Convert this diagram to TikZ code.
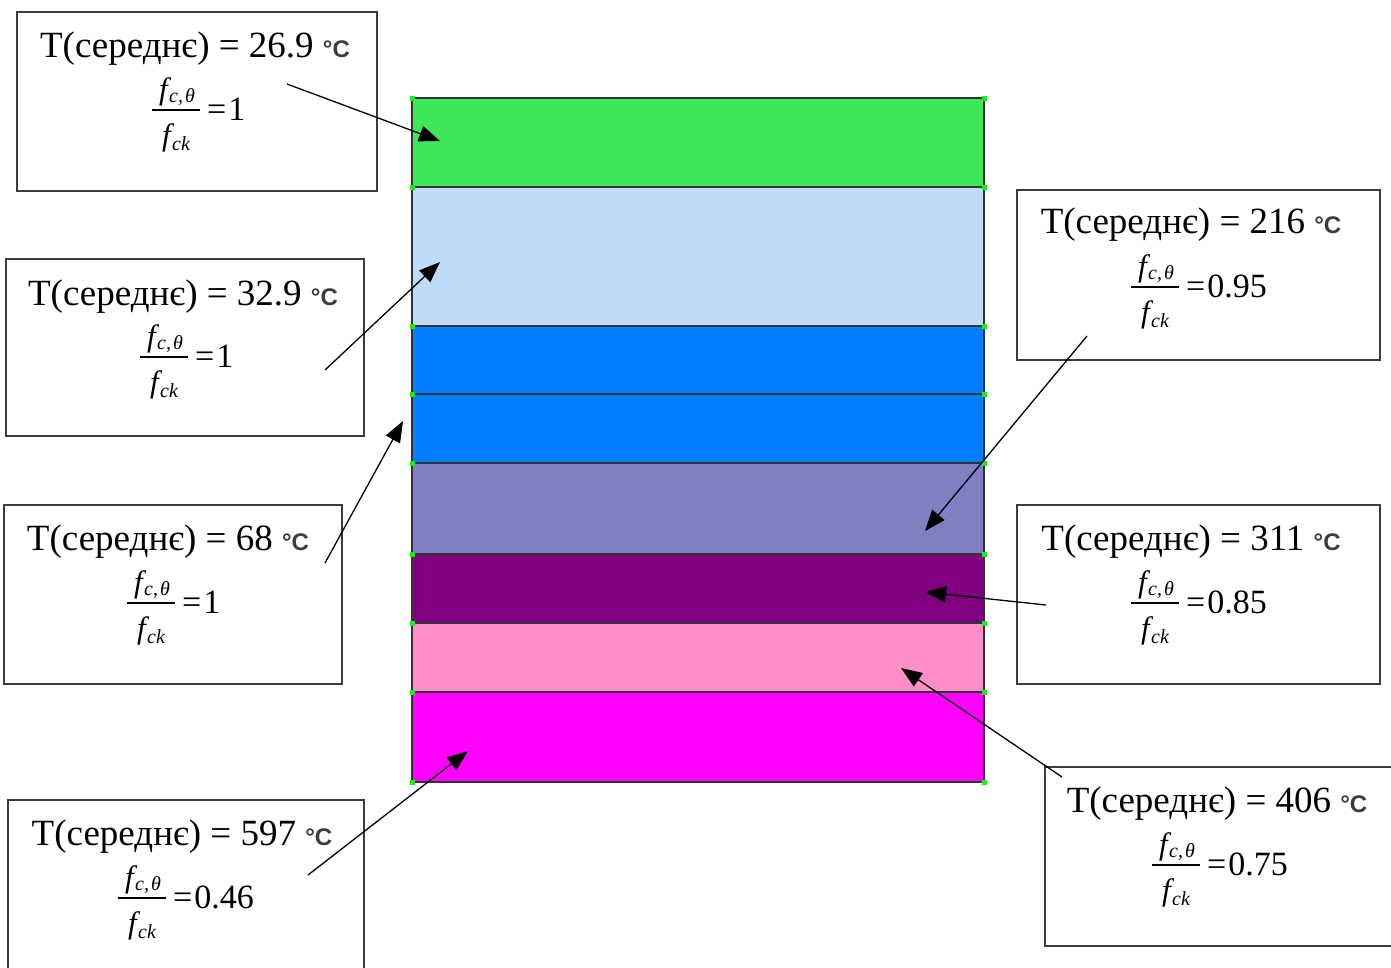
\documentclass[tikz,border=0pt]{standalone}
\usepackage{fontspec}
\setmainfont{Liberation Serif}
\newfontfamily\sansdeg{Liberation Sans}
\usetikzlibrary{arrows.meta}
\definecolor{lgreen}{RGB}{63,232,88}
\definecolor{lblue}{RGB}{190,220,247}
\definecolor{mblue}{RGB}{0,128,255}
\definecolor{slate}{RGB}{128,128,192}
\definecolor{purp}{RGB}{128,0,128}
\definecolor{lpink}{RGB}{255,142,200}
\definecolor{magen}{RGB}{255,0,255}
\definecolor{laygray}{RGB}{50,50,60}
\definecolor{boxgray}{RGB}{60,60,60}
\definecolor{deggray}{RGB}{60,60,60}
\definecolor{dotgreen}{RGB}{30,235,30}
\newcommand\mydegc{{\sansdeg\bfseries\fontsize{24}{24}\selectfont\color{deggray}°C}}
\newcommand\fsub{\fontsize{20}{20}\selectfont\itshape}
\newcommand\fracbox[4]{%
  \coordinate (#1l) at (#2,#3);
  \coordinate (#1r) at (#2+48,#3);
  \draw[line width=1.3pt] (#1l) -- (#1r);
  \node[fnum] (#1n) at (#2+25,#3-11) {f\kern1.5pt\raisebox{-3pt}{\fsub c,\kern2pt θ}};
  \node[fnum] (#1d) at (#2+24,#3+35) {f\kern1.5pt\raisebox{-5pt}{\fsub ck}};
  \node[fval] (#1v) at (#2+55,#3+10) {=\kern2pt #4};
}
\begin{document}
\begin{tikzpicture}[x=1pt,y=-1pt,
  layer/.style={draw=laygray,line width=1.5pt},
  tbox/.style={draw=boxgray,line width=1.3pt,fill=white,inner sep=0pt},
  head/.style={anchor=base,inner sep=0pt,font=\fontsize{37}{40}\selectfont},
  fnum/.style={anchor=base,inner sep=0pt,font=\fontsize{31}{31}\selectfont\itshape},
  fval/.style={anchor=base west,inner sep=0pt,font=\fontsize{34}{34}\selectfont},
  arr/.style={line width=1.3pt,-{Triangle[length=21pt,width=16pt]}},
  gdot/.style={fill=dotgreen,minimum size=5pt,inner sep=0pt}]
\useasboundingbox (0,0) rectangle (1391,967);
\clip (0,0) rectangle (1391,967);
\fill[white] (0,0) rectangle (1391,967);
% layers
\filldraw[layer,fill=lgreen] (412,98) rectangle (984,187);
\filldraw[layer,fill=lblue] (412,187) rectangle (984,326);
\filldraw[layer,fill=mblue] (412,326) rectangle (984,394);
\filldraw[layer,fill=mblue] (412,394) rectangle (984,463);
\filldraw[layer,fill=slate] (412,463) rectangle (984,554);
\filldraw[layer,fill=purp] (412,554) rectangle (984,623);
\filldraw[layer,fill=lpink] (412,623) rectangle (984,692);
\filldraw[layer,fill=magen] (412,692) rectangle (984,782);
\foreach \yy [count=\i] in {98,187,326,394,463,554,623,692,782}{
  \node[gdot] (dl\i) at (412,\yy) {};
  \node[gdot] (dr\i) at (984,\yy) {};
}
% boxes
\node[tbox,minimum width=360pt,minimum height=179pt] (bA) at (197,101.5) {};
\node[tbox,minimum width=358pt,minimum height=177pt] (bB) at (185,347.5) {};
\node[tbox,minimum width=338pt,minimum height=179pt] (bC) at (173,594.5) {};
\node[tbox,minimum width=356pt,minimum height=180pt] (bD) at (186,890) {};
\node[tbox,minimum width=363pt,minimum height=170pt] (bE) at (1198.5,275) {};
\node[tbox,minimum width=363pt,minimum height=179pt] (bF) at (1198.5,594.5) {};
\node[tbox,minimum width=355pt,minimum height=179pt] (bG) at (1222.5,856.5) {};
% texts
\node[head] (hA) at (195,57) {T(середнє) = 26.9 \mydegc};
\fracbox{fA}{152}{110}{1}
\node[head] (hB) at (183,305) {T(середнє) = 32.9 \mydegc};
\fracbox{fB}{140}{357}{1}
\node[head] (hC) at (168,550) {T(середнє) = 68 \mydegc};
\fracbox{fC}{127}{603}{1}
\node[head] (hD) at (182,845) {T(середнє) = 597 \mydegc};
\fracbox{fD}{118}{898}{0.46}
\node[head] (hE) at (1191,233) {T(середнє) = 216 \mydegc};
\fracbox{fE}{1131}{287}{0.95}
\node[head] (hF) at (1191,550) {T(середнє) = 311 \mydegc};
\fracbox{fF}{1131}{603}{0.85}
\node[head] (hG) at (1217,812) {T(середнє) = 406 \mydegc};
\fracbox{fG}{1152}{865}{0.75}
% arrow ends
\coordinate (sA) at (287,84);   \coordinate (tA) at (440,141);
\coordinate (sB) at (325,370);  \coordinate (tB) at (440,262);
\coordinate (sC) at (325,563);  \coordinate (tC) at (403,421);
\coordinate (sD) at (308,875);  \coordinate (tD) at (468,751);
\coordinate (sE) at (1087,336); \coordinate (tE) at (925,531);
\coordinate (sF) at (1046,605); \coordinate (tF) at (925,592);
\coordinate (sG) at (1062,777); \coordinate (tG) at (901,668);
\foreach \k in {A,B,C,D,E,F,G}{\draw[arr] (s\k) -- (t\k);}
\end{tikzpicture}
\end{document}
